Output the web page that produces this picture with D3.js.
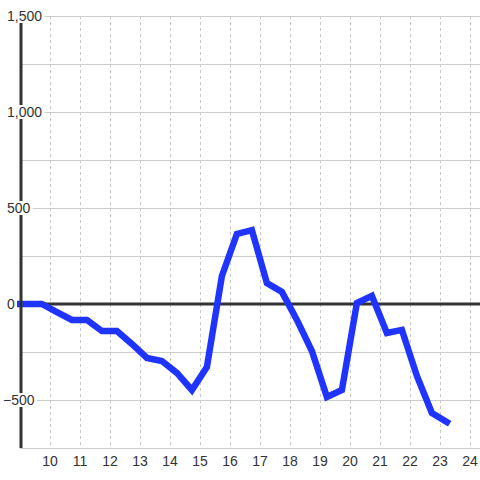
<!DOCTYPE html>
<html><head><meta charset="utf-8">
<script src="https://cdn.jsdelivr.net/npm/d3@7/dist/d3.min.js"></script>
<style>body{margin:0;background:#fff}svg{display:block}</style>
</head><body>
<svg id="c" width="480" height="480"></svg>
<script>
const xs = [9.0, 9.73, 10.23, 10.73, 11.23, 11.73, 12.23, 12.73, 13.23, 13.73, 14.23, 14.73, 15.23, 15.73, 16.23, 16.73, 17.23, 17.73, 18.23, 18.73, 19.23, 19.73, 20.23, 20.73, 21.23, 21.73, 22.23, 22.73, 23.23];
const values = [0, 0, -42, -83, -83, -141, -141, -208, -281, -297, -359, -448, -328, 146, 365, 385, 109, 63, -83, -245, -484, -448, 5, 42, -151, -135, -375, -568, -615];
const xTicks = [10, 11, 12, 13, 14, 15, 16, 17, 18, 19, 20, 21, 22, 23, 24];
const yLabelTicks = [1500, 1000, 500, 0, -500];
const yGridTicks = [1500, 1250, 1000, 750, 500, 250, 0, -250, -500, -750];

const svg = d3.select("#c");
const x = d3.scaleLinear().domain([9, 24 + 1/3]).range([20, 480]);
const y = d3.scaleLinear().domain([-750, 1500]).range([448, 16]);

// horizontal grid
svg.append("g").selectAll("line").data(yGridTicks).join("line")
  .attr("x1", x(9)).attr("x2", 480)
  .attr("y1", d => y(d)).attr("y2", d => y(d))
  .attr("stroke", "#ccc").attr("stroke-width", 1).attr("shape-rendering", "crispEdges");

// vertical dashed grid
svg.append("g").selectAll("line").data(xTicks).join("line")
  .attr("x1", d => x(d)).attr("x2", d => x(d))
  .attr("y1", y(1500)).attr("y2", y(-750))
  .attr("stroke", "#c8c8c8").attr("stroke-width", 1).attr("stroke-dasharray", "3,3")
  .attr("shape-rendering", "crispEdges");

// zero line
svg.append("line").attr("x1", x(9)).attr("x2", 480).attr("y1", y(0)).attr("y2", y(0))
  .attr("stroke", "#333").attr("stroke-width", 3);

// data line
const line = d3.line().x((d, i) => x(xs[i])).y(d => y(d));
svg.append("path").datum(values).attr("d", line)
  .attr("fill", "none").attr("stroke", "#1f35ff").attr("stroke-width", 6.5)
  .attr("stroke-linejoin", "miter").attr("stroke-linecap", "square");

// y axis line
svg.append("line").attr("x1", x(9) + 1).attr("x2", x(9) + 1).attr("y1", y(1500)).attr("y2", y(-750))
  .attr("stroke", "#333").attr("stroke-width", 3);

// y labels with white background
const yl = svg.append("g").selectAll("g").data(yLabelTicks).join("g");
const fmt = d3.format(",");
yl.each(function(d) {
  const g = d3.select(this);
  const t = g.append("text")
    .attr("x", d < 0 ? 3 : 7).attr("y", y(d) + 5)
    .attr("font-family", "Liberation Sans, Arial, sans-serif").attr("font-size", 14)
    .attr("fill", "#333").text(fmt(d));
  const b = t.node().getBBox();
  g.insert("rect", "text").attr("x", b.x - 2).attr("y", y(d) - 7)
    .attr("width", b.width + 4).attr("height", 14).attr("fill", "#fff");
});

// x labels
svg.append("g").selectAll("text").data(xTicks).join("text")
  .attr("x", d => x(d)).attr("y", 466).attr("text-anchor", "middle")
  .attr("font-family", "Liberation Sans, Arial, sans-serif").attr("font-size", 14)
  .attr("fill", "#333").text(d => d);
</script>
</body></html>
